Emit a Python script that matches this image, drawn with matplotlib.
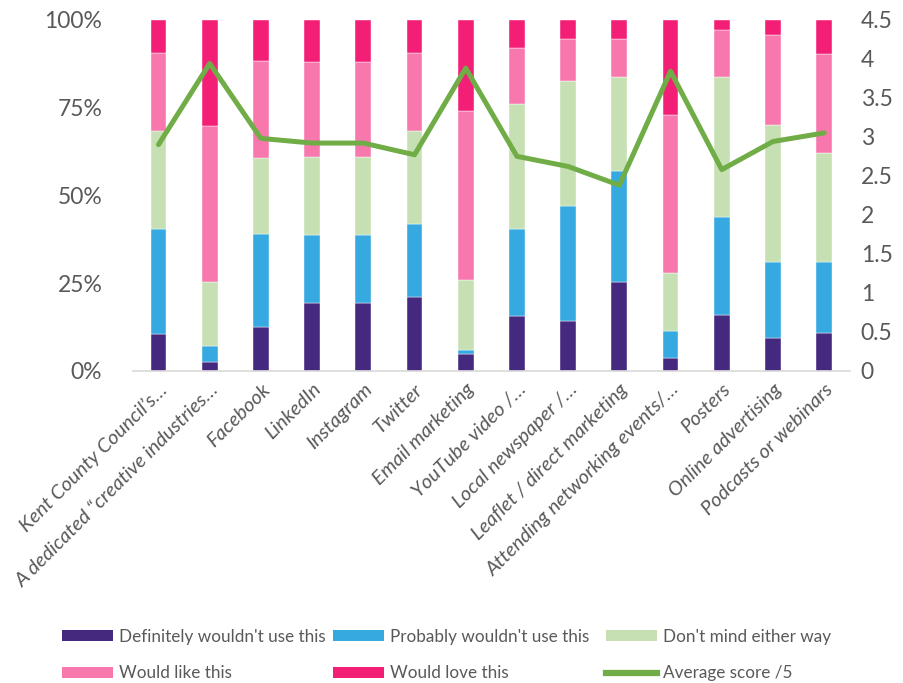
import numpy as np
import matplotlib
matplotlib.use('Agg')
import matplotlib.pyplot as plt
from matplotlib.patches import Patch
from matplotlib.lines import Line2D
from matplotlib.ticker import PercentFormatter

plt.rcParams['font.family'] = ['Lato', 'DejaVu Sans']

channels = [
    'Kent County Council\u2019s\u2026',
    'A dedicated \u201ccreative industries\u2026',
    'Facebook',
    'LinkedIn',
    'Instagram',
    'Twitter',
    'Email marketing',
    'YouTube video /\u2026',
    'Local newspaper /\u2026',
    'Leaflet / direct marketing',
    'Attending networking events/\u2026',
    'Posters',
    'Online advertising',
    'Podcasts or webinars',
]

# share of respondents (%) per answer
definitely_not = [10.5, 2.4, 12.5, 19.3, 19.3, 20.9, 4.7, 15.6, 14.3, 25.2, 3.8, 15.8, 9.3, 10.7]
probably_not = [30.0, 4.7, 26.6, 19.4, 19.4, 21.0, 1.3, 24.9, 32.8, 31.8, 7.6, 28.0, 21.6, 20.2]
dont_mind = [27.7, 18.1, 21.6, 22.3, 22.3, 26.3, 19.8, 35.6, 35.5, 26.8, 16.6, 40.0, 39.2, 31.1]
would_like = [22.4, 44.6, 27.7, 27.0, 27.0, 22.4, 48.1, 15.8, 12.0, 10.7, 44.9, 13.4, 25.6, 28.3]
would_love = [9.4, 30.2, 11.6, 12.0, 12.0, 9.4, 26.1, 8.1, 5.4, 5.5, 27.1, 2.8, 4.3, 9.7]

avg_score = [2.90, 3.94, 2.98, 2.92, 2.92, 2.77, 3.88, 2.75, 2.62, 2.38, 3.84, 2.58, 2.94, 3.05]

series = [
    ("Definitely wouldn't use this", definitely_not, '#44297F'),
    ("Probably wouldn't use this", probably_not, '#36A9E1'),
    ("Don't mind either way", dont_mind, '#C6E0B4'),
    ('Would like this', would_like, '#F878AE'),
    ('Would love this', would_love, '#F31F77'),
]

grey = '#595959'

fig = plt.figure(figsize=(9.04, 6.83), dpi=100)
ax = fig.add_axes([0.147, 0.457, 0.793, 0.514])

x = np.arange(len(channels))
data = np.array([s[1] for s in series], dtype=float)
data = data / data.sum(axis=0) * 100
bottom = np.zeros(len(channels))
for (name, _, color), vals in zip(series, data):
    ax.bar(x, vals, 0.31, bottom=bottom, color=color, edgecolor='white', linewidth=0.3)
    bottom += vals

ax.set_ylim(0, 100)
ax.set_xlim(-0.5, len(channels) - 0.5)
ax.set_yticks([0, 25, 50, 75, 100])
ax.yaxis.set_major_formatter(PercentFormatter(decimals=0))
ax.tick_params(axis='y', length=0, labelsize=16.5, labelcolor=grey, pad=22)
ax.set_xticks(x)
ax.set_xticklabels(channels, rotation=45, ha='right', rotation_mode='anchor',
                   fontsize=14.5, color=grey, style='italic')
ax.tick_params(axis='x', length=0, pad=7)
for side in ['left', 'right', 'top']:
    ax.spines[side].set_visible(False)
ax.spines['bottom'].set_color('#D9D9D9')
ax.spines['bottom'].set_linewidth(1.2)

ax2 = ax.twinx()
ax2.plot(x, avg_score, color='#70AD47', linewidth=3.6, solid_capstyle='round')
ax2.set_ylim(0, 4.5)
ax2.set_yticks(np.arange(0, 4.6, 0.5))
ax2.set_yticklabels(['0', '0.5', '1', '1.5', '2', '2.5', '3', '3.5', '4', '4.5'])
ax2.tick_params(axis='y', length=0, labelsize=16.5, labelcolor=grey, pad=8)
for side in ['left', 'right', 'top', 'bottom']:
    ax2.spines[side].set_visible(False)

# legend: three fixed columns, two rows each
patches = [Patch(facecolor=c, label=n) for n, _, c in series]
avg_line = Line2D([], [], color='#70AD47', linewidth=4.5, label='Average score /5')
columns = [[patches[0], patches[3]], [patches[1], patches[4]], [patches[2], avg_line]]
col_left = [62, 333, 606]
for left, col in zip(col_left, columns):
    fig.legend(handles=col, loc='center left',
               bbox_to_anchor=(left / 904, 1 - 655 / 683),
               frameon=False, fontsize=12.3, labelcolor=grey, handlelength=2.98,
               handleheight=0.58, handletextpad=0.35, labelspacing=1.2,
               borderaxespad=0, borderpad=0)

fig.savefig('out.png', dpi=100)
